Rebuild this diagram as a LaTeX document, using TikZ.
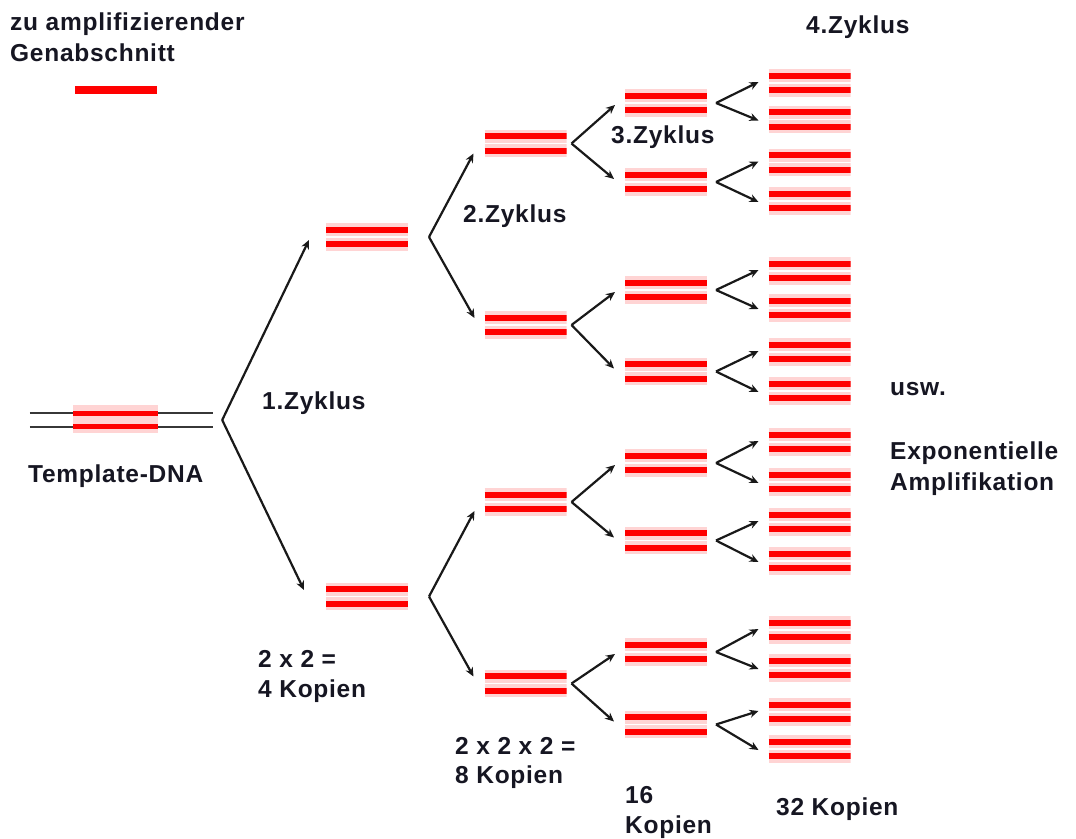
\documentclass[tikz,border=0pt]{standalone}
\usepackage{fontspec}
\setmainfont{Liberation Sans}[LetterSpace=3]
\usetikzlibrary{arrows.meta}
\definecolor{halo}{RGB}{255,212,212}
\definecolor{dnared}{RGB}{255,0,0}
\definecolor{ink}{RGB}{22,22,34}
\definecolor{dnagray}{RGB}{55,55,55}
\tikzset{
  pr/.style={minimum width=82pt, minimum height=30pt, inner sep=0pt, outer sep=0pt,
    path picture={
      \foreach \dy in {7.2,-7.2}{
        \draw[halo, line width=13pt] ([yshift=\dy pt]path picture bounding box.west) -- ([yshift=\dy pt]path picture bounding box.east);
        \draw[dnared, line width=6.3pt] ([yshift=\dy pt]path picture bounding box.west) -- ([yshift=\dy pt]path picture bounding box.east);
      }}},
  lbl/.style={anchor=base west, inner sep=0pt, text=ink, font=\bfseries\fontsize{24.5}{30}\selectfont},
  arr/.style={draw=black!90, line width=2.2pt, -{Stealth[length=9pt,width=8pt]}},
}
\begin{document}
\begin{tikzpicture}[x=1pt,y=-1pt]
\useasboundingbox (0,0) rectangle (1076,838);
\fill[white] (0,0) rectangle (1076,838);

% legend
\node[lbl] (leg1) at (10,30) {zu amplifizierender};
\node[lbl] (leg2) at (10,61) {Genabschnitt};
\draw[dnared, line width=8pt] (75,90) -- (157,90);

% template DNA
\node[minimum width=183pt, minimum height=28pt, inner sep=0pt] (tmpl) at (121.5,420) {};
\fill[halo] (73,405) rectangle (158,433);
\draw[dnagray, line width=2pt] (tmpl.west |- 0,413.3) -- (tmpl.east |- 0,413.3);
\draw[dnagray, line width=2pt] (tmpl.west |- 0,426.7) -- (tmpl.east |- 0,426.7);
\draw[dnared, line width=5.5pt] (73,413.3) -- (158,413.3);
\draw[dnared, line width=5.5pt] (73,426.7) -- (158,426.7);
\node[lbl] (tlab) at (28,482) {Template-DNA};

% columns
\node[pr] (c1a) at (367,237) {};
\node[pr] (c1b) at (367,596.5) {};

\node[pr] (c2a) at (525.5,143.5) {};
\node[pr] (c2b) at (525.5,325) {};
\node[pr] (c2c) at (525.5,502) {};
\node[pr] (c2d) at (525.5,683.5) {};

\foreach \n/\y in {a/103,b/182,c/290,d/371.5,e/463,f/540.5,g/652,h/724.5}
  \node[pr] (c3\n) at (666,\y) {};

\foreach \n/\y in {a/83,b/119.5,c/162.5,d/201,e/271,f/308,g/352,h/391,i/442,j/482,k/522,l/561,m/630,n/668,o/712,p/749}
  \node[pr] (c4\n) at (809.5,\y) {};

% forks
\coordinate (f0) at ([xshift=9pt]tmpl.east);
\coordinate (f1a) at ([xshift=21pt]c1a.east);
\coordinate (f1b) at ([xshift=21pt]c1b.east);
\foreach \n in {a,b,c,d} \coordinate (f2\n) at ([xshift=5pt]c2\n.east);
\foreach \n in {a,b,c,d,e,f,g,h} \coordinate (f3\n) at ([xshift=9pt]c3\n.east);

% connectors
\draw[arr] (f0) -- ([xshift=-17pt,yshift=-3pt]c1a.west);
\draw[arr] (f0) -- ([xshift=-22pt,yshift=6.5pt]c1b.west);

\draw[arr] (f1a) -- ([xshift=-11pt,yshift=-10pt]c2a.west);
\draw[arr] (f1a) -- ([xshift=-10pt,yshift=7pt]c2b.west);
\draw[arr] (f1b) -- ([xshift=-10pt,yshift=-9pt]c2c.west);
\draw[arr] (f1b) -- ([xshift=-11pt,yshift=7pt]c2d.west);

\foreach \p/\u/\l in {a/a/b, b/c/d, c/e/f, d/g/h}{
  \draw[arr] (f2\p) -- ([xshift=-10pt,yshift=-2pt]c3\u.west);
  \draw[arr] (f2\p) -- ([xshift=-11pt,yshift=3pt]c3\l.west);
}
\foreach \p/\u/\l in {a/a/b, b/c/d, c/e/f, d/g/h, e/i/j, f/k/l, g/m/n, h/o/p}{
  \draw[arr] (f3\p) -- ([xshift=-10pt,yshift=1pt]c4\u.west);
  \draw[arr] (f3\p) -- ([xshift=-10pt,yshift=-1pt]c4\l.west);
}

% labels
\node[lbl] (z1) at (262,409) {1.Zyklus};
\node[lbl] (z2) at (463,222) {2.Zyklus};
\node[lbl] (z3) at (611,143) {3.Zyklus};
\node[lbl] (z4) at (806,33) {4.Zyklus};

\node[lbl] (usw) at (890,395) {usw.};
\node[lbl] (exp1) at (890,459) {Exponentielle};
\node[lbl] (exp2) at (890,490) {Amplifikation};

\node[lbl] (k4a) at (258,667) {2 x 2 =};
\node[lbl] (k4b) at (258,697) {4 Kopien};
\node[lbl] (k8a) at (455,754) {2 x 2 x 2 =};
\node[lbl] (k8b) at (455,783) {8 Kopien};
\node[lbl] (k16a) at (625,803) {16};
\node[lbl] (k16b) at (625,833) {Kopien};
\node[lbl] (k32) at (776,815) {32 Kopien};
\end{tikzpicture}
\end{document}
